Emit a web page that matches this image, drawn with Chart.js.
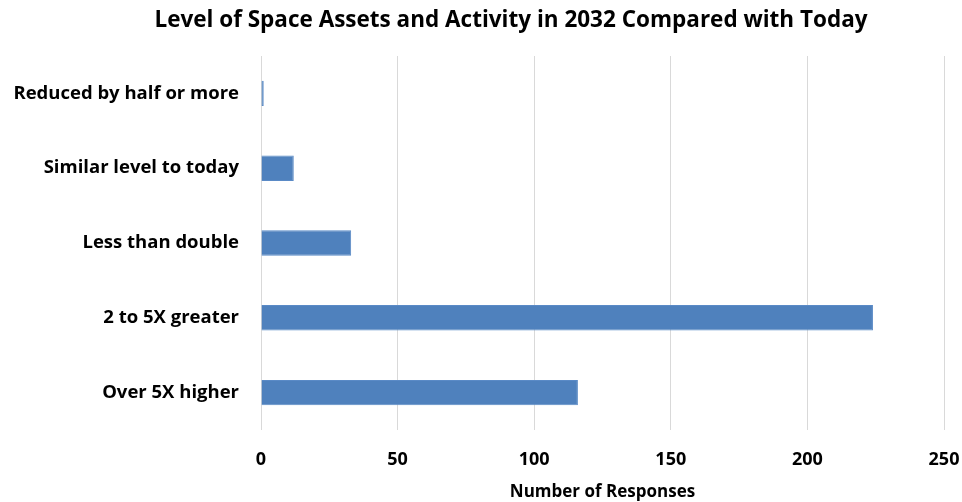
<!DOCTYPE html>
<html>
<head>
<meta charset="utf-8">
<script src="https://cdn.jsdelivr.net/npm/chart.js@4"></script>
<style>
  html, body { margin: 0; padding: 0; background: #fff; }
</style>
</head>
<body>
<canvas id="assetChart" width="962" height="502"></canvas>
<script>
// categories and response counts
const levels = [
  "Reduced by half or more",
  "Similar level to today",
  "Less than double",
  "2 to 5X greater",
  "Over 5X higher",
];
const responses = [1, 12, 33, 224, 116];
const tickValues = [0, 50, 100, 150, 200, 250];

const chartTitle = "Level of Space Assets and Activity in 2032 Compared with Today";
const fontFamily = "'Liberation Sans Narrow', 'Open Sans', sans-serif";

// title sits a bit right of the canvas centre, so draw it by hand
const titlePlugin = {
  id: "offsetTitle",
  afterDraw: function (chart) {
    const c = chart.ctx;
    c.save();
    c.font = "bold 22.5px " + fontFamily;
    c.fillStyle = "#000";
    c.textAlign = "center";
    c.textBaseline = "middle";
    c.fillText(chartTitle, 511, 21);
    c.restore();
  },
};

const ctx = document.getElementById("assetChart").getContext("2d");
const assetChart = new Chart(ctx, {
  type: "bar",
  data: {
    labels: levels,
    datasets: [
      {
        label: "Number of Responses",
        data: responses,
        backgroundColor: "#4f81bd",
        borderColor: "#5a8ac6",
        borderWidth: 1,
        barPercentage: 0.34,
        categoryPercentage: 1,
      },
    ],
  },
  plugins: [titlePlugin],
  options: {
    indexAxis: "y",
    responsive: false,
    animation: false,
    layout: {
      padding: { left: 0, right: 0, top: 56, bottom: 0 },
    },
    plugins: {
      legend: { display: false },
      tooltip: { enabled: false },
      title: { display: false },
    },
    scales: {
      x: {
        min: 0,
        max: 250,
        afterBuildTicks: function (scale) {
          scale.ticks = tickValues.map(function (v) {
            return { value: v };
          });
        },
        afterFit: function (scale) {
          scale.paddingRight = 18;
        },
        grid: {
          color: "#d9d9d9",
          lineWidth: 1,
          drawTicks: false,
        },
        border: { display: false },
        ticks: {
          color: "#000",
          padding: 19,
          font: { family: fontFamily, size: 18, weight: "bold" },
        },
        title: {
          display: true,
          text: "Number of Responses",
          color: "#000",
          font: { family: fontFamily, size: 17, weight: "bold" },
          padding: { top: -8, bottom: 0 },
        },
      },
      y: {
        grid: { display: false },
        border: { display: false },
        afterFit: function (scale) {
          scale.width = 261;
        },
        ticks: {
          color: "#000",
          padding: 14,
          font: { family: fontFamily, size: 18.5, weight: "bold" },
        },
      },
    },
  },
});
</script>
</body>
</html>
